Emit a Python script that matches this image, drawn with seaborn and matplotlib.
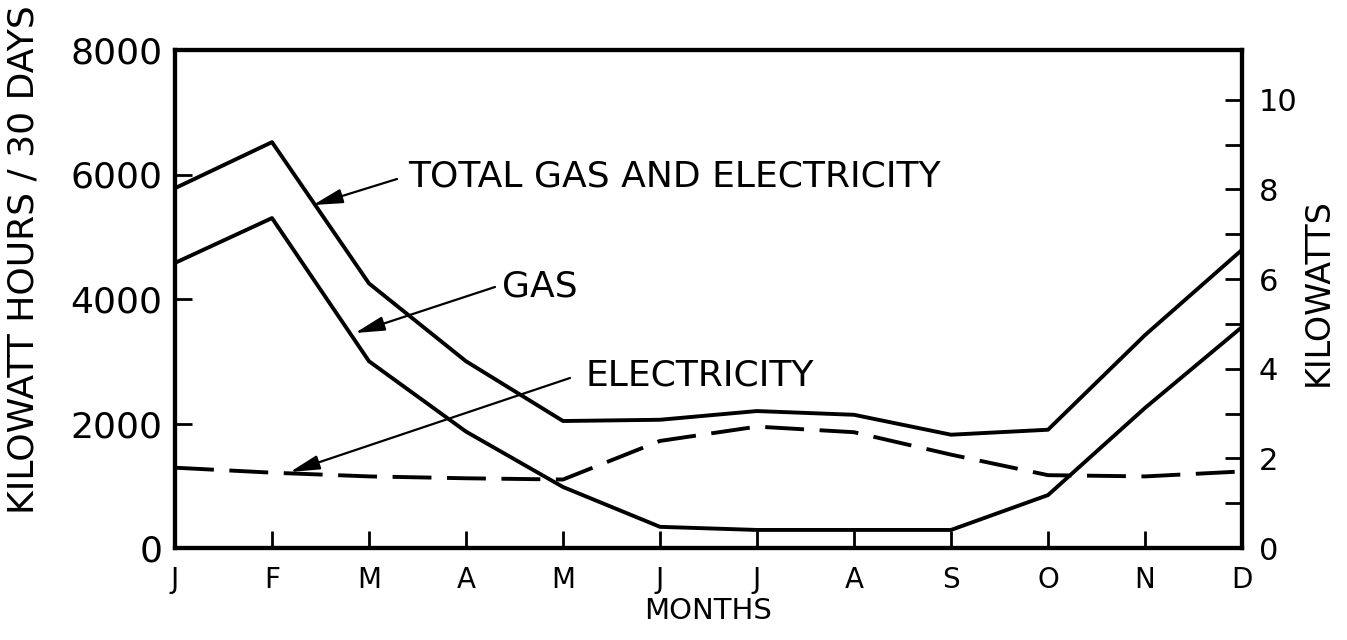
import numpy as np
import pandas as pd
import seaborn as sns
import matplotlib.pyplot as plt

# ----------------------------- data ------------------------------
months = ["J", "F", "M", "A", "M", "J", "J", "A", "S", "O", "N", "D"]
total = [5780, 6520, 4250, 3000, 2040, 2060, 2200, 2140, 1820, 1900, 3420, 4790]
gas = [4580, 5300, 3000, 1870, 980, 340, 290, 290, 290, 850, 2250, 3550]
elec = [1290, 1210, 1150, 1120, 1100, 1720, 1950, 1860, 1500, 1170, 1150, 1230]
left_ticks = [0, 2000, 4000, 6000, 8000]
right_major = [0, 2, 4, 6, 8, 10]
right_minor = [1, 3, 5, 7, 9]
hours_per_30_days = 720

df = pd.DataFrame({"month": np.arange(len(months)), "total": total, "gas": gas, "elec": elec})

# ----------------------------- style -----------------------------
sns.set_style("white")
plt.rcParams["font.family"] = ["DejaVu Sans"]
plt.rcParams.update({"text.color": "black", "axes.labelcolor": "black",
                     "axes.edgecolor": "black", "xtick.color": "black",
                     "ytick.color": "black", "axes.linewidth": 3})

fig = plt.figure(figsize=(13.47, 6.4), dpi=100)
ax = fig.add_axes([175 / 1347, 1 - 548 / 640, 1067 / 1347, 498 / 640])

sns.lineplot(data=df, x="month", y="total", ax=ax, color="black", lw=2.8)
sns.lineplot(data=df, x="month", y="gas", ax=ax, color="black", lw=2.8)
sns.lineplot(data=df, x="month", y="elec", ax=ax, color="black", lw=2.8)
ax.lines[-1].set_dashes((10, 4))

ax.set_xlim(0, len(months) - 1)
ax.set_ylim(0, 8000)
ax.set_xticks(df["month"])
ax.set_xticklabels(months, fontsize=20)
ax.set_yticks(left_ticks)
ax.set_yticklabels([str(t) for t in left_ticks], fontsize=26)
ax.tick_params(axis="both", direction="in", length=12, width=2,
               left=True, bottom=True)
ax.tick_params(axis="x", pad=13)
ax.tick_params(axis="y", pad=9)
ax.set_xlabel("MONTHS", fontsize=21)
ax.xaxis.set_label_coords(0.5, -0.098)
ax.set_ylabel("KILOWATT HOURS / 30 DAYS", fontsize=26)
ax.yaxis.set_label_coords(-0.1265, 0.58)

ax2 = ax.twinx()
ax2.set_ylim(0, 8000 / hours_per_30_days)
ax2.set_yticks(right_major)
ax2.set_yticklabels([str(t) for t in right_major], fontsize=22)
ax2.set_yticks(right_minor, minor=True)
ax2.tick_params(axis="y", which="both", direction="in", length=12, width=2,
                pad=12, right=True)
ax2.set_ylabel("KILOWATTS", fontsize=24)
ax2.yaxis.set_label_coords(1.056, 0.514)

for a in (ax, ax2):
    for sp in a.spines.values():
        sp.set_linewidth(3)
        sp.set_color("black")

# ------------------------- annotations ---------------------------
arrow = dict(arrowstyle="-|>,head_length=0.9,head_width=0.22", color="black",
             lw=1.6, shrinkA=0, shrinkB=0, mutation_scale=20)
ax.text(2.40, 5960, "TOTAL GAS AND ELECTRICITY", fontsize=26, ha="left", va="center")
ax.annotate("", xy=(1.423, 5510), xytext=(2.289, 5928), arrowprops=arrow)
ax.text(3.37, 4193, "GAS", fontsize=26, ha="left", va="center")
ax.annotate("", xy=(1.856, 3454), xytext=(3.299, 4193), arrowprops=arrow)
ax.text(4.227, 2779, "ELECTRICITY", fontsize=26, ha="left", va="center")
ax.annotate("", xy=(1.186, 1221), xytext=(4.072, 2731), arrowprops=arrow)

fig.savefig("out.png", dpi=100)
